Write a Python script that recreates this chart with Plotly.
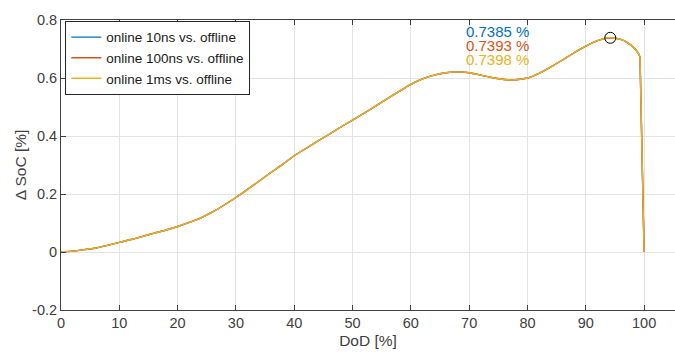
import plotly.graph_objects as go

# Depth of discharge [%]
dod = [0, 2, 4, 6, 8, 10, 12, 14, 16, 18, 20, 22, 24, 26, 28, 30, 32, 34, 36, 38,
       40, 42, 44, 46, 48, 50, 52, 54, 56, 58, 60, 62, 64, 66, 68, 70, 72, 74, 76, 78,
       80, 82, 84, 86, 88, 90, 92, 94.2, 95, 96, 97, 98, 99, 99.3, 100]

# Shared SoC deviation shape [%]
delta_soc = [0, 0.003, 0.008, 0.014, 0.023, 0.033, 0.043, 0.054, 0.065, 0.076,
             0.088, 0.102, 0.118, 0.138, 0.162, 0.188, 0.216, 0.245, 0.274, 0.302,
             0.332, 0.357, 0.382, 0.406, 0.431, 0.455, 0.479, 0.504, 0.529, 0.554,
             0.578, 0.597, 0.610, 0.618, 0.621, 0.618, 0.610, 0.601, 0.595, 0.594,
             0.600, 0.616, 0.638, 0.662, 0.687, 0.710, 0.729, 0.7385, 0.737, 0.733,
             0.724, 0.709, 0.686, 0.672, 0.0]

peak_index = 47
peak_dod = dod[peak_index]

series_names = ["online 10ns vs. offline", "online 100ns vs. offline", "online 1ms vs. offline"]
peak_values = [0.7385, 0.7393, 0.7398]
colors = ["#0072BD", "#D95319", "#EDB120"]

x_ticks = [0, 10, 20, 30, 40, 50, 60, 70, 80, 90, 100]
y_ticks = [-0.2, 0, 0.2, 0.4, 0.6, 0.8]
y_tick_text = ["-0.2", "0", "0.2", "0.4", "0.6", "0.8"]

font_family = "Liberation Sans, Arial, sans-serif"
text_gray = "#404040"

fig = go.Figure()

split = len(dod) - 2  # smooth body, then the straight final drop
for name, peak, color in zip(series_names, peak_values, colors):
    y = list(delta_soc)
    y[peak_index] = peak
    fig.add_trace(go.Scatter(x=dod[:split + 1], y=y[:split + 1], mode="lines",
                             name=name, legendgroup=name,
                             line=dict(color=color, width=1.4, shape="spline",
                                       smoothing=0.8)))
    fig.add_trace(go.Scatter(x=dod[split:], y=y[split:], mode="lines",
                             name=name, legendgroup=name, showlegend=False,
                             line=dict(color=color, width=1.4)))

# Circle around the maximum
fig.add_trace(go.Scatter(x=[peak_dod], y=[peak_values[0]], mode="markers",
                         showlegend=False,
                         marker=dict(symbol="circle-open", size=11,
                                     line=dict(color="#000000", width=1),
                                     color="#000000")))

# Peak value labels
label_y = [0.762, 0.713, 0.665]
for peak, color, ly in zip(peak_values, colors, label_y):
    fig.add_annotation(x=74.8, y=ly, text=f"{peak:.4f} %", showarrow=False,
                       font=dict(family=font_family, size=15, color=color),
                       xanchor="center", yanchor="middle")

fig.update_layout(
    width=675, height=360,
    margin=dict(l=61, r=0, t=20, b=50),
    paper_bgcolor="white", plot_bgcolor="white",
    font=dict(family=font_family, size=14, color=text_gray),
    showlegend=True,
    legend=dict(x=0.007, y=0.997, xanchor="left", yanchor="top",
                bgcolor="white", bordercolor="#262626", borderwidth=1,
                font=dict(family=font_family, size=13.5, color="#1a1a1a"),
                tracegroupgap=0, itemwidth=30),
)

fig.update_xaxes(
    range=[0, 105.3], tickvals=x_ticks, ticks="inside", ticklen=5,
    tickcolor="#404040", showline=True, linecolor="#404040", linewidth=1,
    mirror="ticks", showgrid=True, gridcolor="#e3e3e3", gridwidth=1,
    zeroline=False, tickfont=dict(size=14.5, color=text_gray),
    title=dict(text="DoD [%]", font=dict(size=15.5, color=text_gray), standoff=4),
)
fig.update_yaxes(
    range=[-0.2, 0.8], tickvals=y_ticks, ticktext=y_tick_text, ticks="inside",
    ticklen=5, tickcolor="#404040", showline=True, linecolor="#404040",
    linewidth=1, showgrid=True, gridcolor="#e3e3e3", gridwidth=1,
    zeroline=False, tickfont=dict(size=14.5, color=text_gray),
    title=dict(text="Δ SoC [%]", font=dict(size=15.5, color=text_gray), standoff=1),
)

fig.write_html("out.html")
